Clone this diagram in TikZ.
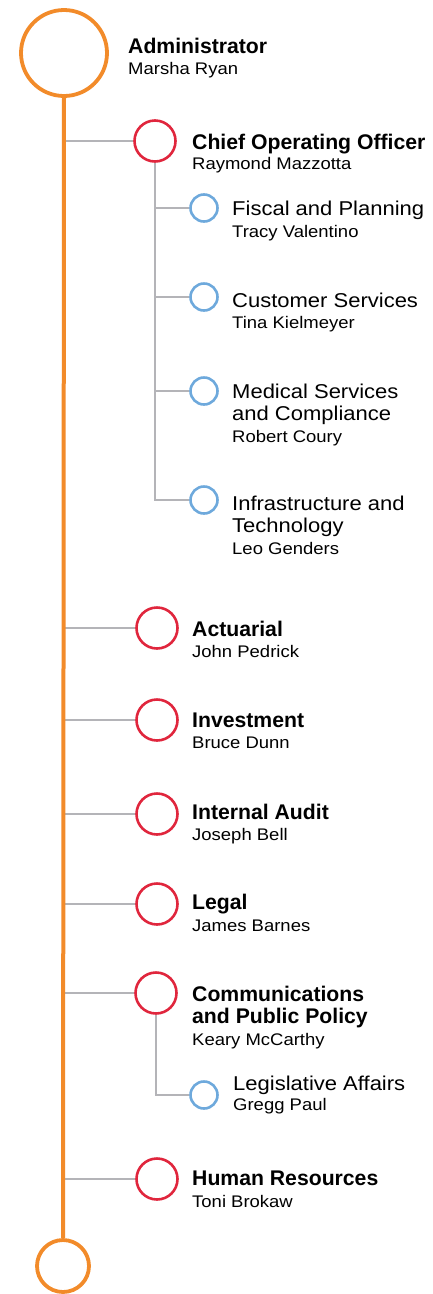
\documentclass[tikz,border=0pt]{standalone}
\usepackage{fontspec}
\setmainfont{Liberation Sans}
\newfontfamily\widefont[FakeStretch=1.1]{Liberation Sans}
\definecolor{orgc}{HTML}{F28B2A}
\definecolor{redc}{HTML}{E0263D}
\definecolor{bluec}{HTML}{6EA9DC}
\definecolor{grayc}{HTML}{B4B4B8}
\begin{document}
\begin{tikzpicture}[x=1pt,y=-1pt,
  bigcirc/.style={circle,draw=orgc,line width=3.8pt,inner sep=0pt,minimum size=86pt},
  endcirc/.style={circle,draw=orgc,line width=3.8pt,inner sep=0pt,minimum size=52pt},
  redcirc/.style={circle,draw=redc,line width=2.6pt,inner sep=0pt,minimum size=41pt},
  bluecirc/.style={circle,draw=bluec,line width=2.6pt,inner sep=0pt,minimum size=27pt},
  trunk/.style={draw=orgc,line width=4pt},
  branch/.style={draw=grayc,line width=2.6pt},
  boldt/.style={anchor=base west,inner sep=0pt,font=\fontsize{21.2}{22}\selectfont\bfseries},
  regt/.style={anchor=base west,inner sep=0pt,font=\widefont\fontsize{20}{22}\selectfont},
  namet/.style={anchor=base west,inner sep=0pt,font=\widefont\fontsize{16.8}{20}\selectfont}]
\useasboundingbox (0,0) rectangle (432,1294);
% circles
\node[bigcirc] (admin) at (64,53) {};
\node[endcirc] (bottom) at (63,1266) {};
\node[redcirc] (coo) at (155,141) {};
\node[bluecirc] (fis) at (204,208) {};
\node[bluecirc] (cus) at (204,297) {};
\node[bluecirc] (med) at (204,391) {};
\node[bluecirc] (inf) at (204,500) {};
\node[redcirc] (act) at (157,628) {};
\node[redcirc] (inv) at (157,720) {};
\node[redcirc] (aud) at (157,814) {};
\node[redcirc] (leg) at (157,904) {};
\node[redcirc] (com) at (156,993) {};
\node[bluecirc] (lga) at (204,1095) {};
\node[redcirc] (hr) at (157,1179) {};
% connectors
\path[branch] (coo.west -| admin) -- (coo.west);
\path[branch] (act.west -| admin) -- (act.west);
\path[branch] (inv.west -| admin) -- (inv.west);
\path[branch] (aud.west -| admin) -- (aud.west);
\path[branch] (leg.west -| admin) -- (leg.west);
\path[branch] (com.west -| admin) -- (com.west);
\path[branch] (hr.west -| admin) -- (hr.west);
\path[branch] (coo.south) -- (coo.south |- inf.west) -- (inf.west);
\path[branch] (coo.south |- fis.west) -- (fis.west);
\path[branch] (coo.south |- cus.west) -- (cus.west);
\path[branch] (coo.south |- med.west) -- (med.west);
\path[branch] (com.south) -- (com.south |- lga.west) -- (lga.west);
\path[trunk] (admin.south) -- (bottom.north);
% texts
\node[boldt] (adminT) at (128,53) {Administrator};
\node[namet] (adminN) at (128,74) {Marsha Ryan};
\node[boldt] (cooT) at (192,149) {Chief Operating Officer};
\node[namet] (cooN) at (192,169) {Raymond Mazzotta};
\node[regt] (fisT) at (232,215) {Fiscal and Planning};
\node[namet] (fisN) at (232,237) {Tracy Valentino};
\node[regt] (cusT) at (232,307) {Customer Services};
\node[namet] (cusN) at (232,328) {Tina Kielmeyer};
\node[regt] (medT1) at (232,398) {Medical Services};
\node[regt] (medT2) at (232,420) {and Compliance};
\node[namet] (medN) at (232,442) {Robert Coury};
\node[regt] (infT1) at (232,510) {Infrastructure and};
\node[regt] (infT2) at (232,532) {Technology};
\node[namet] (infN) at (232,554) {Leo Genders};
\node[boldt] (actT) at (192,636) {Actuarial};
\node[namet] (actN) at (192,657) {John Pedrick};
\node[boldt] (invT) at (192,727) {Investment};
\node[namet] (invN) at (192,748) {Bruce Dunn};
\node[boldt] (audT) at (192,819) {Internal Audit};
\node[namet] (audN) at (192,840) {Joseph Bell};
\node[boldt] (legT) at (192,909) {Legal};
\node[namet] (legN) at (192,931) {James Barnes};
\node[boldt] (comT1) at (192,1001) {Communications};
\node[boldt] (comT2) at (192,1023) {and Public Policy};
\node[namet] (comN) at (192,1045) {Keary McCarthy};
\node[regt] (lgaT) at (233,1090) {Legislative Affairs};
\node[namet] (lgaN) at (233,1110) {Gregg Paul};
\node[boldt] (hrT) at (192,1185) {Human Resources};
\node[namet] (hrN) at (192,1207) {Toni Brokaw};
\end{tikzpicture}
\end{document}
